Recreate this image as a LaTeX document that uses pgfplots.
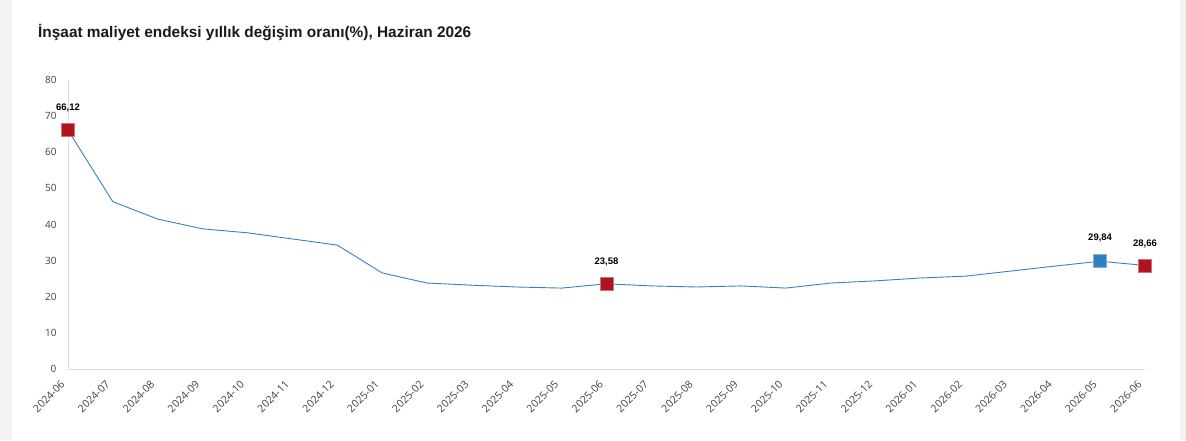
\documentclass[border=0pt]{standalone}
\usepackage{pgfplots}
\pgfplotsset{compat=1.18}
\usepackage{fontspec}
\setmainfont{Liberation Sans}
\newfontfamily\tickfont{Open Sans}
\definecolor{lineblue}{HTML}{3A80C0}
\definecolor{mblue}{HTML}{2F7EBD}
\definecolor{mred}{HTML}{B0141C}
\definecolor{axgray}{HTML}{D8DEEA}
\definecolor{bggray}{HTML}{F2F2F2}
\begin{document}
\begin{tikzpicture}[x=1pt,y=1pt]
\useasboundingbox (0,0) rectangle (1186,440);
\fill[bggray] (0,0) rectangle (12,440);
\fill[bggray] (1180,0) rectangle (1186,440);
\node[anchor=base west,inner sep=0,font=\bfseries\fontsize{15.4}{17}\selectfont,text=black!90] at (38,402) {İnşaat maliyet endeksi yıllık değişim oranı(\%), Haziran 2026};
\begin{axis}[
  at={(68pt,71pt)}, anchor=south west,
  scale only axis, width=1077pt, height=289pt,
  xmin=0, xmax=24, ymin=0, ymax=80,
  ytick={0,10,...,80},
  xtick={0,...,24},
  xticklabels={2024-06,2024-07,2024-08,2024-09,2024-10,2024-11,2024-12,2025-01,2025-02,2025-03,2025-04,2025-05,2025-06,2025-07,2025-08,2025-09,2025-10,2025-11,2025-12,2026-01,2026-02,2026-03,2026-04,2026-05,2026-06},
  axis x line*=bottom, axis y line*=left,
  axis line style={axgray, line width=0.8pt, -},
  major tick length=0pt,
  tick style={draw=none},
  yticklabel style={font=\tickfont\fontsize{10}{12}\selectfont, text=black!75, xshift=-8pt},
  xticklabel style={font=\tickfont\fontsize{10.5}{12}\selectfont, text=black!75, xshift=-8pt, yshift=-6pt, rotate=45, anchor=north east},
  /pgf/number format/assume math mode=true,
  clip=false,
]
\addplot[lineblue, line width=0.9pt, mark=none] coordinates {
(0,66.12) (1,46.3) (2,41.5) (3,38.8) (4,37.7) (5,36.0) (6,34.3) (7,26.6) (8,23.8) (9,23.2) (10,22.7) (11,22.4) (12,23.58) (13,23.0) (14,22.7) (15,23.0) (16,22.4) (17,23.8) (18,24.4) (19,25.2) (20,25.7) (21,27.1) (22,28.5) (23,29.84) (24,28.66)
};
\addplot[only marks, mark=square*, mark size=6.5pt, mark options={fill=mred, draw=mred!60!white, line width=0.5pt},
  nodes near coords, point meta=explicit symbolic,
  every node near coord/.style={font=\bfseries\fontsize{9.5}{10}\selectfont, text=black, anchor=center, yshift=22pt}]
coordinates {(0,66.12)[66,12] (12,23.58)[23,58] (24,28.66)[28,66]};
\addplot[only marks, mark=square*, mark size=6.5pt, mark options={fill=mblue, draw=mblue!60!white, line width=0.5pt},
  nodes near coords, point meta=explicit symbolic,
  every node near coord/.style={font=\bfseries\fontsize{9.5}{10}\selectfont, text=black, anchor=center, yshift=23pt}]
coordinates {(23,29.84)[29,84]};
\end{axis}
\end{tikzpicture}
\end{document}
